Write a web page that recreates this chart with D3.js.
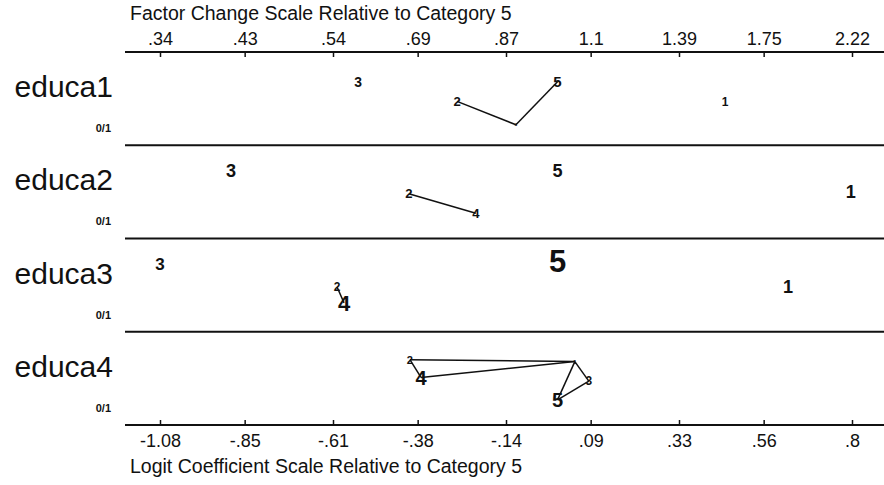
<!DOCTYPE html>
<html>
<head>
<meta charset="utf-8">
<script src="https://cdn.jsdelivr.net/npm/d3@7"></script>
<style>
    body { margin: 0; background: #fff; }
    text { font-family: "Liberation Sans", Arial, sans-serif; fill: #111; }
</style>
</head>
<body>
<svg width="884" height="485"></svg>
<script>

// variables (rows of the plot)
const variables = ['educa1', 'educa2', 'educa3', 'educa4']
const varType = ['0/1', '0/1', '0/1', '0/1']

// outcome categories plotted as letters
const categories = ['1', '2', '3', '4', '5']

// logit coefficients relative to category 5, one array per variable
const educa1Logit = [0.455, -0.273, -0.542, -0.113, 0]
const educa2Logit = [0.797, -0.404, -0.887, -0.222, 0]
const educa3Logit = [0.626, -0.599, -1.08, -0.580, 0]
const educa4Logit = [0.047, -0.401, 0.085, -0.371, 0]

// discrete change in probability (letter size)
const educa1Dc = [0.032, 0.036, 0.039, 0.004, 0.043]
const educa2Dc = [0.054, 0.036, 0.054, 0.036, 0.054]
const educa3Dc = [0.054, 0.032, 0.050, 0.068, 0.100]
const educa4Dc = [0.011, 0.029, 0.032, 0.061, 0.061]

// vertical offset of each letter inside its row (0 = top, 1 = bottom)
const educa1Offset = [0.53, 0.53, 0.32, 0.78, 0.32]
const educa2Offset = [0.50, 0.52, 0.27, 0.73, 0.27]
const educa3Offset = [0.51, 0.52, 0.27, 0.69, 0.24]
const educa4Offset = [0.32, 0.30, 0.53, 0.49, 0.73]

// categories joined because they are not significantly different
const educa1Links = [['2', '4'], ['4', '5']]
const educa2Links = [['2', '4']]
const educa3Links = [['2', '4']]
const educa4Links = [['2', '1'], ['2', '4'], ['4', '1'], ['1', '5'], ['1', '3'], ['3', '5']]

// axis ticks
const logitTicks = [-1.08, -0.85, -0.61, -0.38, -0.14, 0.09, 0.33, 0.56, 0.8]
const logitLabels = ['-1.08', '-.85', '-.61', '-.38', '-.14', '.09', '.33', '.56', '.8']
const factorLabels = ['.34', '.43', '.54', '.69', '.87', '1.1', '1.39', '1.75', '2.22']

const rows = [
    { name: variables[0], type: varType[0], logit: educa1Logit, dc: educa1Dc, offset: educa1Offset, links: educa1Links },
    { name: variables[1], type: varType[1], logit: educa2Logit, dc: educa2Dc, offset: educa2Offset, links: educa2Links },
    { name: variables[2], type: varType[2], logit: educa3Logit, dc: educa3Dc, offset: educa3Offset, links: educa3Links },
    { name: variables[3], type: varType[3], logit: educa4Logit, dc: educa4Dc, offset: educa4Offset, links: educa4Links }
]

const svg = d3.select('svg')

const x = d3.scaleLinear()
    .domain([-1.08, 0.8])
    .range([160, 852])

const y = d3.scaleBand()
    .domain(variables)
    .range([52, 425])

const fontSize = d3.scaleLinear()
    .domain([0, 0.1])
    .range([3, 31])

// titles
svg.append('text')
    .attr('x', 130)
    .attr('y', 20)
    .attr('font-size', 19.5)
    .text('Factor Change Scale Relative to Category 5')

svg.append('text')
    .attr('x', 130)
    .attr('y', 473)
    .attr('font-size', 19.5)
    .text('Logit Coefficient Scale Relative to Category 5')

// top axis (factor change)
const topAxis = d3.axisBottom(x)
    .tickValues(logitTicks)
    .tickSize(5)
    .tickFormat((d, i) => factorLabels[i])

const gTop = svg.append('g')
    .attr('transform', `translate(0,${y.range()[0]})`)
    .call(topAxis)

gTop.selectAll('text')
    .attr('y', -7)
    .attr('dy', 0)
    .attr('font-size', 18)
    .attr('font-family', '"Liberation Sans", Arial, sans-serif')

// bottom axis (logit)
const bottomAxis = d3.axisTop(x)
    .tickValues(logitTicks)
    .tickSize(5)
    .tickFormat((d, i) => logitLabels[i])

const gBottom = svg.append('g')
    .attr('transform', `translate(0,${y.range()[1]})`)
    .call(bottomAxis)

gBottom.selectAll('text')
    .attr('y', 22)
    .attr('dy', 0)
    .attr('font-size', 18)
    .attr('font-family', '"Liberation Sans", Arial, sans-serif')

svg.selectAll('.domain').remove()
svg.selectAll('.tick line')
    .attr('stroke', '#111')
    .attr('stroke-width', 1.5)

// horizontal rules
const ruleY = variables.map(v => y(v)).concat([y.range()[1]])

svg.selectAll('line.rule')
    .data(ruleY)
    .enter()
    .append('line')
        .attr('class', 'rule')
        .attr('x1', 125)
        .attr('x2', 884)
        .attr('y1', d => d)
        .attr('y2', d => d)
        .attr('stroke', '#111')
        .attr('stroke-width', 2)

// row labels
const rowG = svg.selectAll('g.row')
    .data(rows)
    .enter()
    .append('g')
        .attr('class', 'row')
        .attr('transform', d => `translate(0,${y(d.name)})`)

rowG.append('text')
    .attr('x', 113)
    .attr('y', 45)
    .attr('text-anchor', 'end')
    .attr('font-size', 30)
    .text(d => d.name)

rowG.append('text')
    .attr('x', 111)
    .attr('y', 80)
    .attr('text-anchor', 'end')
    .attr('font-size', 11)
    .attr('font-weight', 'bold')
    .text(d => d.type)

// points of each row
const bw = y.bandwidth()
const pointsOf = d => categories.map((c, i) => ({
    cat: c,
    px: x(d.logit[i]),
    py: d.offset[i] * bw,
    size: fontSize(d.dc[i])
}))

rowG.each(function (d) {
    const g = d3.select(this)
    const pts = pointsOf(d)
    const byCat = new Map(pts.map(p => [p.cat, p]))

    g.selectAll('line.link')
        .data(d.links)
        .enter()
        .append('line')
            .attr('class', 'link')
            .attr('x1', l => byCat.get(l[0]).px)
            .attr('y1', l => byCat.get(l[0]).py)
            .attr('x2', l => byCat.get(l[1]).px)
            .attr('y2', l => byCat.get(l[1]).py)
            .attr('stroke', '#111')
            .attr('stroke-width', 1.5)

    g.selectAll('text.cat')
        .data(pts)
        .enter()
        .append('text')
            .attr('class', 'cat')
            .attr('x', p => p.px)
            .attr('y', p => p.py)
            .attr('dy', '0.36em')
            .attr('text-anchor', 'middle')
            .attr('font-size', p => p.size)
            .attr('font-weight', 'bold')
            .text(p => p.cat)
})
</script>
</body>
</html>
